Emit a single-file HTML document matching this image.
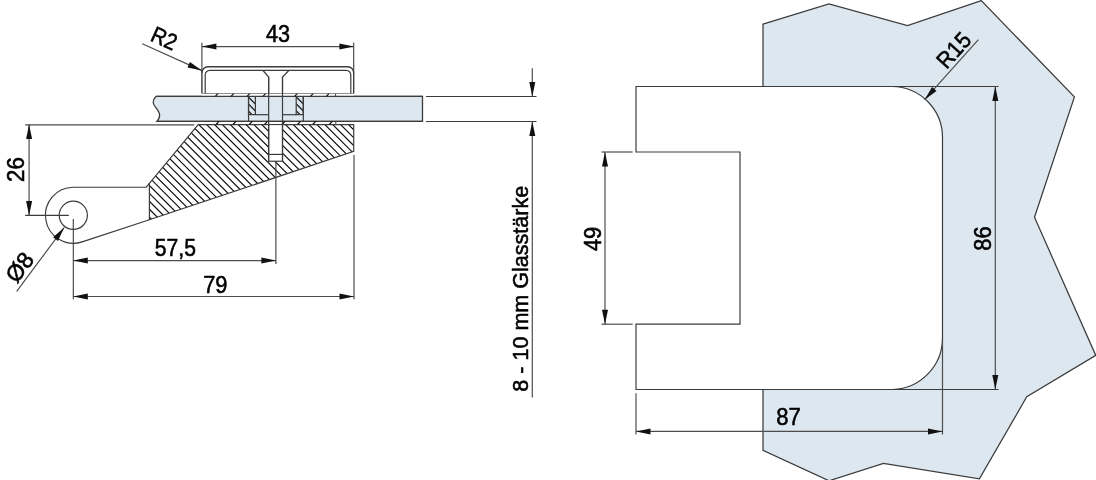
<!DOCTYPE html>
<html><head><meta charset="utf-8"><style>
html,body{margin:0;padding:0;background:#fff;width:1096px;height:480px;overflow:hidden}
svg{display:block;will-change:transform}
text{font-family:"Liberation Sans",sans-serif;fill:#000;stroke:#000;stroke-width:0.55px}
</style></head><body>
<svg width="1096" height="480" viewBox="0 0 1096 480">
<polygon points="763,24.2 829,3.9 907.5,25.5 981.3,0.6 1074.4,96.9 1034.5,217.3 1095.8,355.4 1026.75,396.75 979.4,478.8 883.4,463.3 829.1,480.8 763,450.3" fill="#dde7ef" stroke="#3c3c3c" stroke-width="1.25" stroke-linejoin="miter"/>
<path d="M636,86.5 H892 A51,51 0 0 1 942.5,138 V338 A51.5,51.5 0 0 1 892.5,389.5 H636 V324.2 H740 V152 H636 Z" fill="#fff" stroke="#3c3c3c" stroke-width="1.2"/>
<line x1="892" y1="86.5" x2="998.5" y2="86.5" stroke="#3c3c3c" stroke-width="1.2"/>
<line x1="892.5" y1="389.5" x2="998.5" y2="389.5" stroke="#3c3c3c" stroke-width="1.2"/>
<line x1="995.3" y1="86.5" x2="995.3" y2="389.5" stroke="#4d4d4d" stroke-width="1.2"/>
<path d="M995.30,86.50 L998.30,101.00 L992.30,101.00 Z" fill="#111"/>
<path d="M995.30,389.50 L992.30,375.00 L998.30,375.00 Z" fill="#111"/>
<text transform="translate(991.3 238.6) rotate(-90) scale(0.95 1.08)" font-size="23" text-anchor="middle">86</text>
<line x1="636" y1="393.3" x2="636" y2="434.5" stroke="#4d4d4d" stroke-width="1.2"/>
<line x1="942.5" y1="338" x2="942.5" y2="434.5" stroke="#4d4d4d" stroke-width="1.2"/>
<line x1="636" y1="431.4" x2="942.5" y2="431.4" stroke="#4d4d4d" stroke-width="1.2"/>
<path d="M636.00,431.40 L650.50,428.40 L650.50,434.40 Z" fill="#111"/>
<path d="M942.50,431.40 L928.00,434.40 L928.00,428.40 Z" fill="#111"/>
<text transform="translate(788.6 425.4) rotate(0) scale(0.96 1.0)" font-size="23" text-anchor="middle">87</text>
<line x1="601.5" y1="152" x2="632.7" y2="152" stroke="#4d4d4d" stroke-width="1.2"/>
<line x1="601.5" y1="324.2" x2="632.7" y2="324.2" stroke="#4d4d4d" stroke-width="1.2"/>
<line x1="605" y1="152" x2="605" y2="324.2" stroke="#4d4d4d" stroke-width="1.2"/>
<path d="M605.00,152.00 L608.00,166.50 L602.00,166.50 Z" fill="#111"/>
<path d="M605.00,324.20 L602.00,309.70 L608.00,309.70 Z" fill="#111"/>
<text transform="translate(600.5 238.9) rotate(-90) scale(0.95 1.06)" font-size="23" text-anchor="middle">49</text>
<line x1="978.4" y1="39.7" x2="924.6" y2="99.7" stroke="#4d4d4d" stroke-width="1.2"/>
<path d="M924.60,99.70 L932.05,86.90 L936.51,90.91 Z" fill="#111"/>
<text transform="translate(959.5 55.5) rotate(-48) scale(0.93 1.0)" font-size="23" text-anchor="middle">R15</text>
<clipPath id="cb"><path d="M149.4,183.4 L198.2,124.6 H353.7 V151.4 L149.4,219.75 Z"/></clipPath>
<path clip-path="url(#cb)" d="M-101.30,-10 L408.70,500 M-93.42,-10 L416.58,500 M-85.54,-10 L424.46,500 M-77.66,-10 L432.34,500 M-69.78,-10 L440.22,500 M-61.90,-10 L448.10,500 M-54.02,-10 L455.98,500 M-46.14,-10 L463.86,500 M-38.26,-10 L471.74,500 M-30.38,-10 L479.62,500 M-22.50,-10 L487.50,500 M-14.62,-10 L495.38,500 M-6.74,-10 L503.26,500 M1.14,-10 L511.14,500 M9.02,-10 L519.02,500 M16.90,-10 L526.90,500 M24.78,-10 L534.78,500 M32.66,-10 L542.66,500 M40.54,-10 L550.54,500 M48.42,-10 L558.42,500 M56.30,-10 L566.30,500 M64.18,-10 L574.18,500 M72.06,-10 L582.06,500 M79.94,-10 L589.94,500 M87.82,-10 L597.82,500 M95.70,-10 L605.70,500 M103.58,-10 L613.58,500 M111.46,-10 L621.46,500 M119.34,-10 L629.34,500 M127.22,-10 L637.22,500 M135.10,-10 L645.10,500 M142.98,-10 L652.98,500 M150.86,-10 L660.86,500 M158.74,-10 L668.74,500 M166.62,-10 L676.62,500 M174.50,-10 L684.50,500 M182.38,-10 L692.38,500 M190.26,-10 L700.26,500 M198.14,-10 L708.14,500 M206.02,-10 L716.02,500 M213.90,-10 L723.90,500 M221.78,-10 L731.78,500 M229.66,-10 L739.66,500 M237.54,-10 L747.54,500 M245.42,-10 L755.42,500 M253.30,-10 L763.30,500" stroke="#111" stroke-width="1.2" fill="none"/>
<path d="M149.4,183.4 L198.2,124.6 H353.7 V151.4 L149.4,219.75 Z" fill="none" stroke="#3c3c3c" stroke-width="1.2"/>
<path d="M146.2,187.25 H73.3 A28,28 0 1 0 82.16,241.86 L149.4,219.75" fill="none" stroke="#3c3c3c" stroke-width="1.2"/>
<path d="M146.2,187.25 L149.4,183.4" fill="none" stroke="#3c3c3c" stroke-width="1.2"/>
<circle cx="73.3" cy="215.3" r="14.1" fill="none" stroke="#3c3c3c" stroke-width="1.2"/>
<rect x="268.66" y="124.5" width="13.84" height="36.75" fill="#fff" stroke="#3c3c3c" stroke-width="1.2"/>
<line x1="268.66" y1="154.4" x2="282.5" y2="154.4" stroke="#3c3c3c" stroke-width="1.2"/>
<path d="M156.1,96.3 C154,98.5 153,101 153.3,103 C153.8,107 159.6,110 159.6,115 C159.6,118 158.5,120 157,121.3 H422.5 V96.3 Z" fill="#dde7ef" stroke="#3c3c3c" stroke-width="1.3"/>
<clipPath id="cl"><path d="M248.5,96.3 H255.4 V114.6 H248.5 Z"/></clipPath>
<path clip-path="url(#cl)" d="M113.40,-10 L623.40,500 M120.40,-10 L630.40,500 M127.40,-10 L637.40,500 M134.40,-10 L644.40,500 M141.40,-10 L651.40,500 M148.40,-10 L658.40,500 M155.40,-10 L665.40,500" stroke="#111" stroke-width="1.2" fill="none"/>
<clipPath id="cr"><path d="M296.2,96.3 H303.3 V114.6 H296.2 Z"/></clipPath>
<path clip-path="url(#cr)" d="M161.40,-10 L671.40,500 M168.40,-10 L678.40,500 M175.40,-10 L685.40,500 M182.40,-10 L692.40,500 M189.40,-10 L699.40,500 M196.40,-10 L706.40,500 M203.40,-10 L713.40,500" stroke="#111" stroke-width="1.2" fill="none"/>
<rect x="248.5" y="96.3" width="6.9" height="18.3" fill="none" stroke="#3c3c3c" stroke-width="1.2"/>
<rect x="296.2" y="96.3" width="7.1" height="18.3" fill="none" stroke="#3c3c3c" stroke-width="1.2"/>
<line x1="248.55" y1="96.3" x2="248.55" y2="121.3" stroke="#3c3c3c" stroke-width="1.2"/>
<line x1="303.3" y1="96.3" x2="303.3" y2="121.3" stroke="#3c3c3c" stroke-width="1.2"/>
<line x1="255.4" y1="114.7" x2="268.66" y2="114.7" stroke="#3c3c3c" stroke-width="1.2"/>
<line x1="282.5" y1="114.7" x2="296.4" y2="114.7" stroke="#3c3c3c" stroke-width="1.2"/>
<rect x="201.9" y="93.2" width="152" height="3.1" fill="#fff" stroke="none"/>
<rect x="198.2" y="121.3" width="155.5" height="3.2" fill="#fff" stroke="none"/>
<line x1="201.9" y1="93.2" x2="353.9" y2="93.2" stroke="#3c3c3c" stroke-width="1.2"/>
<line x1="157" y1="121.3" x2="422.5" y2="121.3" stroke="#3c3c3c" stroke-width="1.3"/>
<line x1="156.1" y1="96.3" x2="422.5" y2="96.3" stroke="#3c3c3c" stroke-width="1.3"/>
<line x1="198.2" y1="124.5" x2="353.7" y2="124.5" stroke="#3c3c3c" stroke-width="1.2"/>
<line x1="215.3" y1="96.3" x2="218.3" y2="93.2" stroke="#111" stroke-width="1.2"/>
<line x1="231.10000000000002" y1="96.3" x2="234.10000000000002" y2="93.2" stroke="#111" stroke-width="1.2"/>
<line x1="247.10000000000002" y1="96.3" x2="250.10000000000002" y2="93.2" stroke="#111" stroke-width="1.2"/>
<line x1="263.0" y1="96.3" x2="266.0" y2="93.2" stroke="#111" stroke-width="1.2"/>
<line x1="294.6" y1="96.3" x2="297.6" y2="93.2" stroke="#111" stroke-width="1.2"/>
<line x1="310.5" y1="96.3" x2="313.5" y2="93.2" stroke="#111" stroke-width="1.2"/>
<line x1="326.3" y1="96.3" x2="329.3" y2="93.2" stroke="#111" stroke-width="1.2"/>
<line x1="216.0" y1="124.5" x2="219.0" y2="121.3" stroke="#111" stroke-width="1.2"/>
<line x1="233.0" y1="124.5" x2="236.0" y2="121.3" stroke="#111" stroke-width="1.2"/>
<line x1="249.3" y1="124.5" x2="252.3" y2="121.3" stroke="#111" stroke-width="1.2"/>
<line x1="264.5" y1="124.5" x2="267.5" y2="121.3" stroke="#111" stroke-width="1.2"/>
<line x1="282.0" y1="124.5" x2="285.0" y2="121.3" stroke="#111" stroke-width="1.2"/>
<line x1="297.5" y1="124.5" x2="300.5" y2="121.3" stroke="#111" stroke-width="1.2"/>
<line x1="312.7" y1="124.5" x2="315.7" y2="121.3" stroke="#111" stroke-width="1.2"/>
<line x1="329.3" y1="124.5" x2="332.3" y2="121.3" stroke="#111" stroke-width="1.2"/>
<line x1="335.6" y1="93.2" x2="335.6" y2="96.3" stroke="#3c3c3c" stroke-width="1"/>
<line x1="335.8" y1="121.3" x2="335.8" y2="124.5" stroke="#3c3c3c" stroke-width="1"/>
<path d="M201.9,93.2 V72.8 A6,6 0 0 1 207.9,66.8 H347.7 A6,6 0 0 1 353.7,72.8 V93.2" fill="#fff" stroke="#3c3c3c" stroke-width="1.4"/>
<path d="M205.2,93.2 V75 A4.5,4.5 0 0 1 209.7,70.4 H346.3 A4.5,4.5 0 0 1 350.8,75 V93.2" fill="none" stroke="#3c3c3c" stroke-width="1.2"/>
<path d="M263,70.5 L268.66,77 V93.2 M282.5,93.2 V77 L288.8,70.5" fill="none" stroke="#3c3c3c" stroke-width="1.2"/>
<line x1="268.66" y1="76.8" x2="268.66" y2="161.25" stroke="#3c3c3c" stroke-width="1.2"/>
<line x1="282.5" y1="76.8" x2="282.5" y2="161.25" stroke="#3c3c3c" stroke-width="1.2"/>
<line x1="25.2" y1="124.9" x2="194.2" y2="124.9" stroke="#4a4a4a" stroke-width="1.2"/>
<line x1="25.2" y1="215.4" x2="68.8" y2="215.4" stroke="#3c3c3c" stroke-width="1.1"/>
<line x1="29.1" y1="124.6" x2="29.1" y2="215.4" stroke="#4d4d4d" stroke-width="1.2"/>
<path d="M29.10,124.60 L32.10,139.10 L26.10,139.10 Z" fill="#111"/>
<path d="M29.10,215.40 L26.10,200.90 L32.10,200.90 Z" fill="#111"/>
<text transform="translate(24 169.5) rotate(-90) scale(0.97 1.04)" font-size="23" text-anchor="middle">26</text>
<line x1="16.7" y1="291.3" x2="64.2" y2="227.5" stroke="#4d4d4d" stroke-width="1.2"/>
<path d="M64.20,227.50 L57.95,240.92 L53.13,237.34 Z" fill="#111"/>
<text transform="translate(26 272) rotate(-53.3) scale(1.0 1.0)" font-size="23" text-anchor="middle">Ø8</text>
<line x1="73.3" y1="219" x2="73.3" y2="299.3" stroke="#3c3c3c" stroke-width="1.1"/>
<line x1="275.9" y1="163" x2="275.9" y2="264" stroke="#3c3c3c" stroke-width="1.1"/>
<line x1="354" y1="155" x2="354" y2="299.3" stroke="#3c3c3c" stroke-width="1.1"/>
<line x1="73.3" y1="260.6" x2="275.9" y2="260.6" stroke="#4d4d4d" stroke-width="1.2"/>
<path d="M73.30,260.60 L87.80,257.60 L87.80,263.60 Z" fill="#111"/>
<path d="M275.90,260.60 L261.40,263.60 L261.40,257.60 Z" fill="#111"/>
<text transform="translate(175.4 256) rotate(0) scale(0.92 1.0)" font-size="23" text-anchor="middle">57,5</text>
<line x1="73.3" y1="296.5" x2="354" y2="296.5" stroke="#4d4d4d" stroke-width="1.2"/>
<path d="M73.30,296.50 L87.80,293.50 L87.80,299.50 Z" fill="#111"/>
<path d="M354.00,296.50 L339.50,299.50 L339.50,293.50 Z" fill="#111"/>
<text transform="translate(215.3 292.8) rotate(0) scale(0.95 1.0)" font-size="23" text-anchor="middle">79</text>
<line x1="201.9" y1="42.8" x2="201.9" y2="73" stroke="#3c3c3c" stroke-width="1.1"/>
<line x1="353.7" y1="42.8" x2="353.7" y2="73" stroke="#3c3c3c" stroke-width="1.1"/>
<line x1="201.9" y1="46.6" x2="353.9" y2="46.6" stroke="#4d4d4d" stroke-width="1.2"/>
<path d="M201.90,46.60 L216.40,43.60 L216.40,49.60 Z" fill="#111"/>
<path d="M353.90,46.60 L339.40,49.60 L339.40,43.60 Z" fill="#111"/>
<text transform="translate(278.1 41.75) rotate(0) scale(0.94 1.0)" font-size="23" text-anchor="middle">43</text>
<line x1="142.25" y1="43.8" x2="201.9" y2="70.6" stroke="#4d4d4d" stroke-width="1.2"/>
<path d="M201.90,70.60 L187.45,67.39 L189.91,61.92 Z" fill="#111"/>
<text transform="translate(161 45.5) rotate(24) scale(0.88 1.0)" font-size="23" text-anchor="middle">R2</text>
<line x1="426" y1="96.5" x2="536.5" y2="96.5" stroke="#3c3c3c" stroke-width="1.2"/>
<line x1="426" y1="121.5" x2="536.5" y2="121.5" stroke="#3c3c3c" stroke-width="1.2"/>
<line x1="532.3" y1="68.3" x2="532.3" y2="96.5" stroke="#4d4d4d" stroke-width="1.2"/>
<path d="M532.30,96.50 L529.30,82.00 L535.30,82.00 Z" fill="#111"/>
<line x1="532.3" y1="121.5" x2="532.3" y2="397.5" stroke="#4d4d4d" stroke-width="1.2"/>
<path d="M532.30,121.50 L535.30,136.00 L529.30,136.00 Z" fill="#111"/>
<text transform="translate(527.5 288.7) rotate(-90) scale(0.98 1.0)" font-size="22" text-anchor="middle">8 - 10 mm Glasstärke</text>
</svg></body></html>
